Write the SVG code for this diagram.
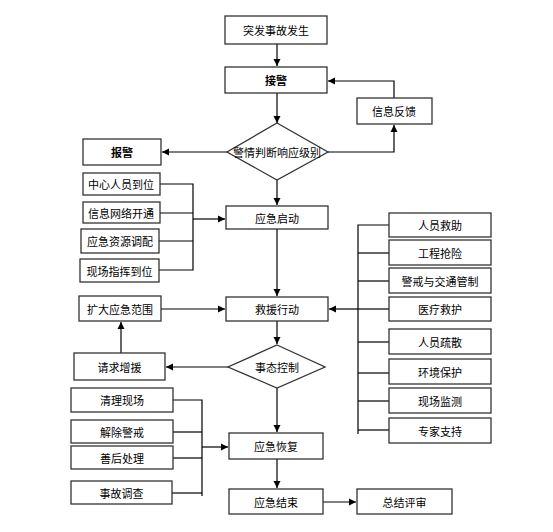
<svg xmlns="http://www.w3.org/2000/svg" width="553" height="532" viewBox="0 0 553 532">
<defs>
<marker id="ah" markerWidth="8" markerHeight="8" refX="7" refY="4" orient="auto" markerUnits="userSpaceOnUse">
<path d="M0,0.5 L7,4 L0,7.5 Z" fill="#000"/>
</marker>
<style>
.b{fill:#fff;stroke:#333;stroke-width:1.3}
.t{font-family:"Noto Sans CJK SC","Noto Sans CJK JP",sans-serif;font-size:11px;fill:#000;text-anchor:middle;dominant-baseline:central}
.bold{font-weight:bold}
.c{fill:none;stroke:#000;stroke-width:1.2}
.a{marker-end:url(#ah)}
</style>
</defs>
<rect width="553" height="532" fill="#fff"/>
<g id="connectors">
<line class="c a" x1="277" y1="44" x2="277" y2="66"/>
<line class="c a" x1="277" y1="93" x2="277" y2="123"/>
<line class="c a" x1="227" y1="152" x2="162" y2="152"/>
<polyline class="c a" points="328,152 394,152 394,125"/>
<polyline class="c a" points="394,98 394,81 328,81"/>
<line class="c a" x1="277" y1="180" x2="277" y2="205"/>
<polyline class="c" points="160,184 193,184 193,270 159,270"/>
<line class="c" x1="160" y1="213" x2="193" y2="213"/>
<line class="c" x1="159" y1="241" x2="193" y2="241"/>
<line class="c a" x1="193" y1="219" x2="225" y2="219"/>
<line class="c a" x1="277" y1="229" x2="277" y2="296"/>
<line class="c a" x1="161" y1="309" x2="225" y2="309"/>
<polyline class="c" points="389,225 358,225 358,434"/>
<line class="c" x1="358" y1="253" x2="389" y2="253"/>
<line class="c" x1="358" y1="281" x2="389" y2="281"/>
<line class="c" x1="358" y1="309" x2="389" y2="309"/>
<line class="c" x1="358" y1="342" x2="389" y2="342"/>
<line class="c" x1="358" y1="373" x2="389" y2="373"/>
<line class="c" x1="358" y1="401" x2="389" y2="401"/>
<line class="c" x1="358" y1="430" x2="389" y2="430"/>
<line class="c a" x1="358" y1="309" x2="329" y2="309"/>
<line class="c a" x1="277" y1="321" x2="277" y2="344"/>
<line class="c a" x1="228" y1="367" x2="166" y2="367"/>
<line class="c a" x1="121" y1="353" x2="121" y2="322"/>
<line class="c a" x1="277" y1="388" x2="277" y2="432"/>
<polyline class="c" points="173,400 202,400 202,496"/>
<line class="c" x1="173" y1="432" x2="202" y2="432"/>
<line class="c" x1="173" y1="458" x2="202" y2="458"/>
<line class="c" x1="172" y1="493" x2="202" y2="493"/>
<line class="c a" x1="202" y1="447" x2="228" y2="447"/>
<line class="c a" x1="277" y1="459" x2="277" y2="488"/>
<line class="c a" x1="323" y1="502" x2="356" y2="502"/>
</g>
<g id="n1"><rect class="b" x="225" y="16" width="102" height="28"/><text class="t" x="276" y="30">突发事故发生</text></g>
<g id="n2"><rect class="b" x="225" y="67" width="102" height="26"/><text class="t bold" x="276" y="80">接警</text></g>
<g id="n3"><polygon class="b" points="277,123 328,152 277,180 227,152"/><text class="t" x="277" y="152">警情判断响应级别</text></g>
<g id="n4"><rect class="b" x="83" y="139" width="78" height="26"/><text class="t bold" x="122" y="152">报警</text></g>
<g id="n5"><rect class="b" x="357" y="98" width="75" height="26"/><text class="t" x="394" y="111">信息反馈</text></g>
<g id="n6"><rect class="b" x="83" y="173" width="77" height="22"/><text class="t" x="121" y="184">中心人员到位</text></g>
<g id="n7"><rect class="b" x="83" y="202" width="77" height="21"/><text class="t" x="121" y="212.5">信息网络开通</text></g>
<g id="n8"><rect class="b" x="81" y="229" width="78" height="24"/><text class="t" x="120" y="241">应急资源调配</text></g>
<g id="n9"><rect class="b" x="80" y="259" width="79" height="23"/><text class="t" x="119.5" y="270.5">现场指挥到位</text></g>
<g id="n10"><rect class="b" x="226" y="206" width="102" height="23"/><text class="t" x="277" y="217.5">应急启动</text></g>
<g id="n11"><rect class="b" x="226" y="297" width="102" height="24"/><text class="t" x="277" y="309">救援行动</text></g>
<g id="n12"><rect class="b" x="79" y="296" width="82" height="25"/><text class="t" x="120" y="308.5">扩大应急范围</text></g>
<g id="n13"><rect class="b" x="389" y="213" width="102" height="24"/><text class="t" x="440" y="225">人员救助</text></g>
<g id="n14"><rect class="b" x="389" y="240" width="102" height="25"/><text class="t" x="440" y="252.5">工程抢险</text></g>
<g id="n15"><rect class="b" x="389" y="268" width="102" height="25"/><text class="t" x="440" y="280.5">警戒与交通管制</text></g>
<g id="n16"><rect class="b" x="389" y="297" width="102" height="24"/><text class="t" x="440" y="309">医疗救护</text></g>
<g id="n17"><rect class="b" x="389" y="329" width="102" height="25"/><text class="t" x="440" y="341.5">人员疏散</text></g>
<g id="n18"><rect class="b" x="389" y="359" width="102" height="25"/><text class="t" x="440" y="371.5">环境保护</text></g>
<g id="n19"><rect class="b" x="389" y="388" width="102" height="25"/><text class="t" x="440" y="400.5">现场监测</text></g>
<g id="n20"><rect class="b" x="389" y="418" width="102" height="25"/><text class="t" x="440" y="430.5">专家支持</text></g>
<g id="n21"><polygon class="b" points="277,345 325,367 277,388 228,367"/><text class="t" x="277" y="367">事态控制</text></g>
<g id="n22"><rect class="b" x="74" y="353" width="91" height="27"/><text class="t" x="119.5" y="366.5">请求增援</text></g>
<g id="n23"><rect class="b" x="71" y="388" width="102" height="24"/><text class="t" x="122" y="400">清理现场</text></g>
<g id="n24"><rect class="b" x="71" y="420" width="102" height="23"/><text class="t" x="122" y="431.5">解除警戒</text></g>
<g id="n25"><rect class="b" x="71" y="446" width="102" height="23"/><text class="t" x="122" y="457.5">善后处理</text></g>
<g id="n26"><rect class="b" x="71" y="481" width="101" height="23"/><text class="t" x="121.5" y="492.5">事故调查</text></g>
<g id="n27"><rect class="b" x="229" y="433" width="94" height="26"/><text class="t" x="276" y="446">应急恢复</text></g>
<g id="n28"><rect class="b" x="229" y="489" width="94" height="25"/><text class="t" x="276" y="501.5">应急结束</text></g>
<g id="n29"><rect class="b" x="357" y="489" width="95" height="25"/><text class="t" x="404.5" y="501.5">总结评审</text></g>
</svg>
